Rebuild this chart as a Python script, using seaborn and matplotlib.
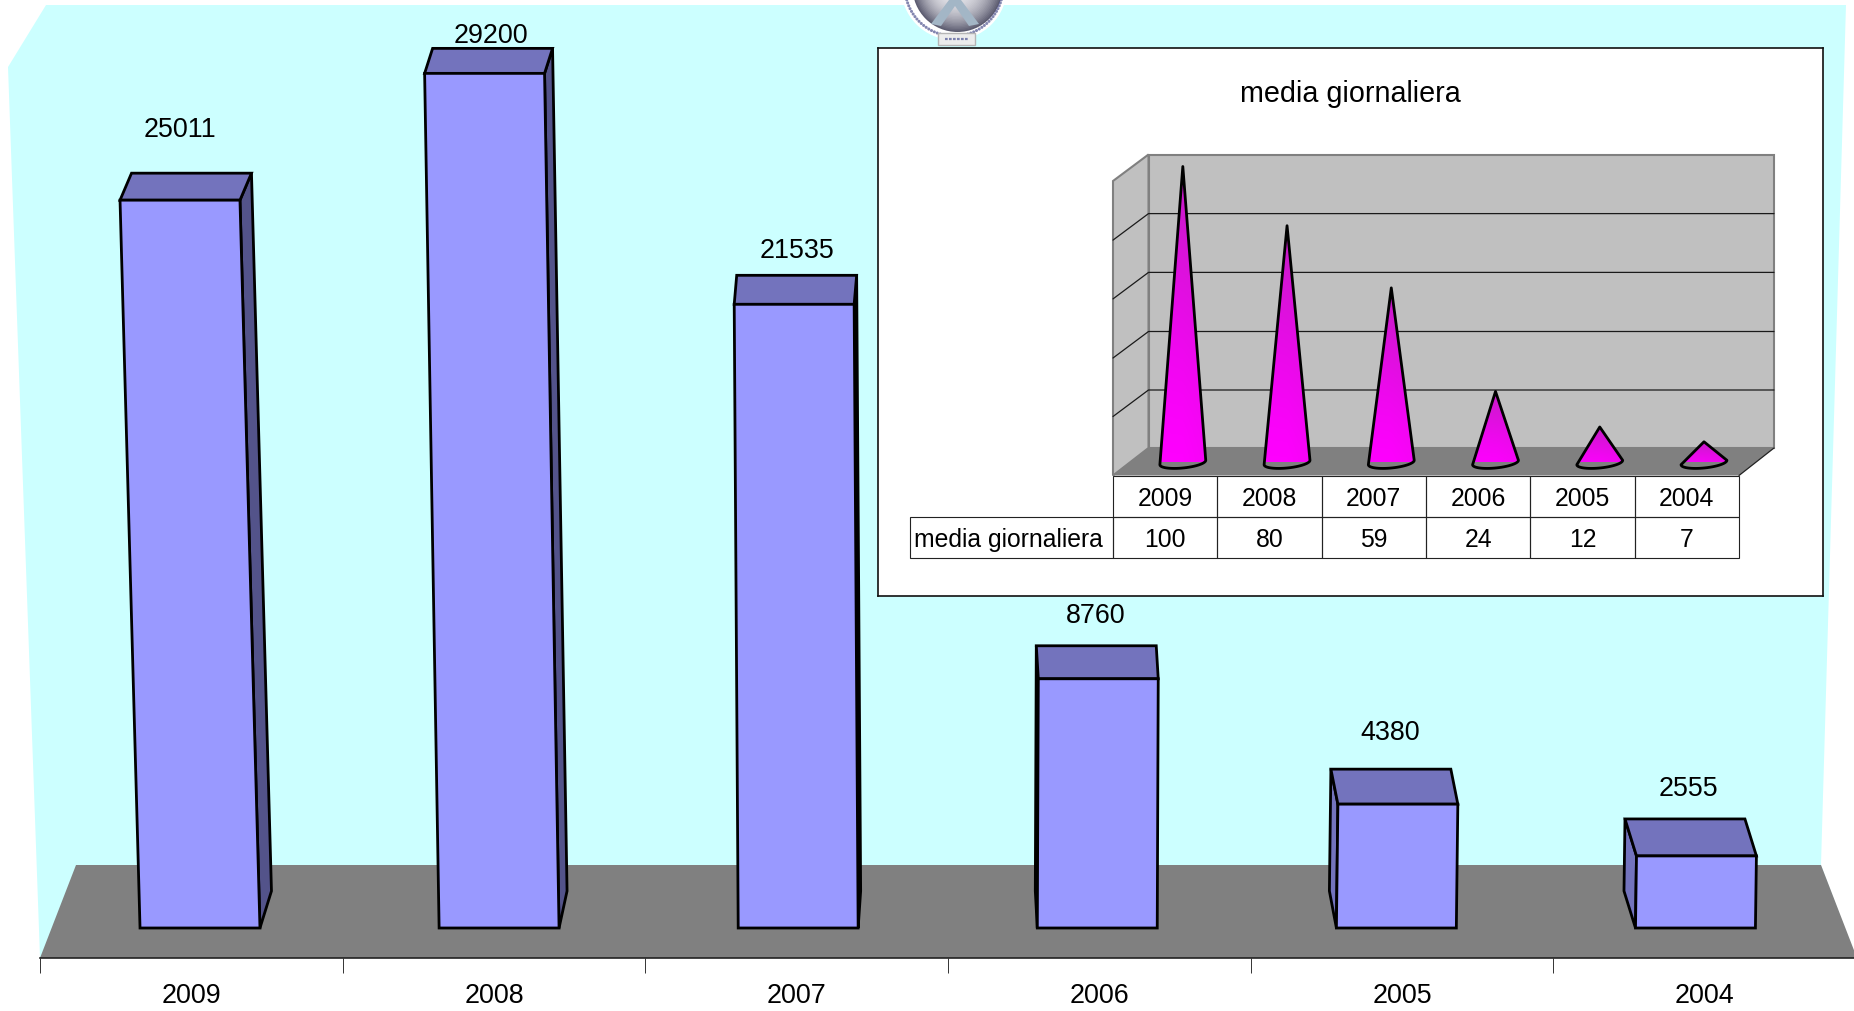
import numpy as np
import matplotlib
matplotlib.use('Agg')
import matplotlib.pyplot as plt
import seaborn as sns
from matplotlib.patches import Polygon, Circle, Rectangle
from matplotlib.transforms import Affine2D, IdentityTransform

sns.set_theme(style='white')
plt.rcParams['font.family'] = ['Liberation Sans', 'DejaVu Sans']

# =============================================================
# DATA
# =============================================================

years = ['2009', '2008', '2007', '2006', '2005', '2004']
totals = [25011, 29200, 21535, 8760, 4380, 2555]
daily = [100, 80, 59, 24, 12, 7]
inset_title = 'media giornaliera'

# =============================================================
# LAYOUT (pixels, measured from the top left of the picture)
# =============================================================

W, H = 1854, 1011
pix = Affine2D().scale(1, -1).translate(0, H)

BLACK = '#000000'
EDGE = 2.0
FRONT, TOP, RIGHT = '#9999FF', '#7373BD', '#53538A'

# 3d look of each bar: how far it leans, and where the back of it sits
lean = [20, 14.5, 4, -1, -1.5, -1]
depth_dx = [11.5, 8, 2.5, -2, -7, -11.5]
depth_dy = [27, 25, 29, 33, 35, 37]
depth_floor = 37
label_dx = [0, 6, 3, -3, -8, -8]
label_dy = [70, 37.5, 53.5, 63, 71, 66.5]


def px_axes(x0, y0, x1, y1, **kw):
    return fig.add_axes([x0 / W, 1 - y1 / H, (x1 - x0) / W, (y1 - y0) / H], **kw)


def shape(target, pts, zorder=1, **kw):
    kw.setdefault('transform', pix)
    patch = Polygon(pts, closed=True, clip_on=False, zorder=zorder, **kw)
    target.add_patch(patch)
    return patch


fig = plt.figure(figsize=(W / 100, H / 100), dpi=100, facecolor='white')

# =============================================================
# 1. WALL, FLOOR, LOGO
# =============================================================

bg = px_axes(0, 0, W, H)
bg.axis('off')
shape(bg, [(46, 5), (8, 67), (40, 958), (1856, 958), (1821, 865), (1846, 5)],
      facecolor='#CCFFFF', edgecolor='none')
shape(bg, [(76, 865), (1821, 865), (1857, 958), (40, 958)],
      facecolor='#808080', edgecolor='none', zorder=2)

# the emblem that is cut off by the top of the slide
bg.add_patch(Circle((954, -13), 53, transform=pix, facecolor='white', edgecolor='none',
                    clip_on=False, zorder=3))
for r in np.linspace(45, 3, 30):
    t = r / 45
    col = np.array([0.90, 0.90, 0.92]) * (1 - t ** 2.5) + np.array([0.36, 0.36, 0.44]) * t ** 2.5
    bg.add_patch(Circle((953.5 + 4 * t, -13), r, transform=pix, facecolor=col,
                        edgecolor='none', clip_on=False, zorder=3))
shape(bg, [(955, -8), (931, 24), (941, 26), (955, 6), (969, 26), (979, 24)],
      facecolor='#A3B6C6', edgecolor='none', zorder=3)
for a in np.radians(np.linspace(8, 172, 46)):
    bg.add_patch(Circle((954 + 49 * np.cos(a), -13 + 49 * np.sin(a)), 1.5, transform=pix,
                        facecolor='#4F548F', alpha=0.7, edgecolor='none', clip_on=False, zorder=3))
bg.add_patch(Rectangle((938, 33), 37, 12, transform=pix, facecolor='#ECECEC', edgecolor='#B5B5B5',
                       linewidth=1, clip_on=False, zorder=3))
bg.plot([945, 968], [39, 39], transform=pix, color='#7B80AE', linewidth=1.6,
        linestyle=(0, (1.2, 0.6)), zorder=4)
bg.set_xlim(0, W)
bg.set_ylim(0, H)

# =============================================================
# 2. FLOOR AXIS WITH THE YEARS
# =============================================================

xax = px_axes(40, 940, 40 + 6 * 302.7, 958)
xax.patch.set_visible(False)
sns.despine(ax=xax, left=True, top=True, right=True)
xax.set_xlim(-0.5, 5.5)
xax.set_yticks([])
xax.set_xticks(np.arange(7) - 0.5)
xax.set_xticklabels([])
xax.set_xticks(np.arange(6), labels=years, minor=True)
xax.tick_params(axis='x', which='major', bottom=True, length=10.8, width=0.7, color='#333333')
xax.tick_params(axis='x', which='minor', bottom=False, pad=14, labelsize=19.4, labelcolor=BLACK)
xax.spines['bottom'].set_color('#222222')
xax.spines['bottom'].set_linewidth(1.2)

# =============================================================
# 3. MAIN BARS
# =============================================================

SLOPE, CURVE = 0.0281, 4e-8


def forward(v):
    v = np.asarray(v, dtype=float)
    return SLOPE * v + CURVE * v * v


def inverse(h):
    h = np.asarray(h, dtype=float)
    return (-SLOPE + np.sqrt(SLOPE ** 2 + 4 * CURVE * np.abs(h))) / (2 * CURVE)


ax = px_axes(50.45, 0, 1845, 928)
sns.barplot(x=years, y=totals, order=years, color=FRONT, saturation=1, width=0.401,
            errorbar=None, edgecolor=BLACK, linewidth=EDGE, ax=ax)
ax.set_yscale('function', functions=(forward, inverse))
ax.set_xlim(-0.5, 5.5)
ax.set_ylim(0, float(inverse(928)))
ax.axis('off')

spacing = (1845 - 50.45) / 6
for i, bar in enumerate(ax.patches):
    x0, x1, v = bar.get_x(), bar.get_x() + bar.get_width(), bar.get_height()
    k = lean[i] / spacing / v
    tr = Affine2D.from_values(1, 0, -k, 1, 0, 0) + ax.transData
    bar.set_transform(tr)
    bar.set_clip_on(False)
    bar.set_zorder(3)

    bl, br, tr_, tl = tr.transform([(x0, 0), (x1, 0), (x1, v), (x0, v)])
    dx, dy = depth_dx[i], depth_dy[i]
    back = np.array([dx, dy])
    floor = np.array([dx, depth_floor])
    if dx > 0:
        side = [tr_, tr_ + back, br + floor, br]
        col = RIGHT
    else:
        side = [tl, tl + back, bl + floor, bl]
        col = TOP
    shape(ax, side, zorder=2, transform=IdentityTransform(), facecolor=col,
          edgecolor=BLACK, linewidth=EDGE)
    shape(ax, [tl, tr_, tr_ + back, tl + back], zorder=2, transform=IdentityTransform(),
          facecolor=TOP, edgecolor=BLACK, linewidth=EDGE)

    ax.annotate(str(totals[i]), xy=(i - lean[i] / spacing, v),
                xytext=(label_dx[i], label_dy[i]), textcoords='offset pixels',
                ha='center', va='center', fontsize=19.4, color=BLACK, annotation_clip=False)

# =============================================================
# 4. INSET WITH THE DAILY AVERAGE
# =============================================================

box = px_axes(878, 48, 1823, 596, facecolor='white')
box.set_xticks([])
box.set_yticks([])
for sp in box.spines.values():
    sp.set_color('#111111')
    sp.set_linewidth(1.2)

shape(box, [(1148.5, 154.5), (1774, 154.5), (1774, 448), (1148.5, 448)], facecolor='#C0C0C0',
      edgecolor='#808080', linewidth=1.5)
shape(box, [(1113, 181), (1148.5, 154.5), (1148.5, 448), (1113, 475.5)], facecolor='#C0C0C0',
      edgecolor='#808080', linewidth=1.5)
shape(box, [(1113, 475.5), (1148.5, 448), (1774, 448), (1739, 475.5)], facecolor='#808080',
      edgecolor='none')
box.plot([1739, 1774], [475.5, 448], transform=pix, color='#222222', linewidth=0.9, clip_on=False)
for gy in [213.6, 272.4, 331.5, 390]:
    box.plot([1113, 1148.5, 1774], [gy + 26.5, gy, gy], transform=pix, color='#1A1A1A',
             linewidth=0.9, clip_on=False)
box.text(1350, 94, inset_title, transform=pix, ha='center', va='center', fontsize=20.7, color=BLACK)

UNIT = 2.96
cones = px_axes(1130.7, 462.5 - 120 * UNIT, 1756.1, 462.5)
cones.set_zorder(box.get_zorder() + 1)
sns.barplot(x=years, y=daily, order=years, color='#FF00FF', saturation=1, width=0.44,
            errorbar=None, ax=cones)
cones.set_xlim(-0.5, 5.5)
cones.set_ylim(0, 120)
cones.axis('off')

drop = 5.5 / UNIT
tilt = 2.2 / UNIT
low, high = np.array([1.0, 0.0, 1.0]), np.array([0.76, 0.12, 0.76])
for bar in cones.patches:
    bar.set_alpha(0)
    hw = bar.get_width() / 2
    xc = bar.get_x() + hw
    h = bar.get_height()
    th = np.linspace(0, np.pi, 30)
    path = [(xc, h)] + [(xc + hw * np.cos(t), -drop * np.sin(t) + tilt * np.cos(t)) for t in th]
    outline = Polygon(path, closed=True, facecolor='none', edgecolor=BLACK, linewidth=2.0,
                      joinstyle='round', clip_on=False, zorder=4)
    cones.add_patch(outline)

    # magenta at the base, going darker towards the tip and on the right
    v_t = np.linspace(1, 0, 120)[:, None]
    u_t = np.linspace(-1, 1, 60)[None, :]
    mix = np.clip(0.9 * v_t ** 1.4 + 0.14 * np.maximum(u_t, 0) + 0.08 * (1 - np.abs(u_t)) * v_t, 0, 1)
    img = low[None, None, :] * (1 - mix[:, :, None]) + high[None, None, :] * mix[:, :, None]
    im = cones.imshow(img, extent=(xc - hw, xc + hw, -drop - tilt, h), aspect='auto', zorder=3)
    im.set_clip_path(outline)
cones.set_xlim(-0.5, 5.5)
cones.set_ylim(0, 120)

# table under the inset chart
tab = px_axes(910, 475.5, 1739, 558)
tab.set_zorder(box.get_zorder() + 1)
tab.axis('off')
label_w = (1113 - 910) / 829
col_w = (1 - label_w) / 6
table = tab.table(cellText=[[''] + years, [inset_title] + [str(d) for d in daily]],
                  colWidths=[label_w] + [col_w] * 6, bbox=[0, 0, 1, 1], cellLoc='center')
table.auto_set_font_size(False)
for (r, c), cell in table.get_celld().items():
    cell.set_edgecolor('#222222')
    cell.set_linewidth(0.8)
    cell.set_facecolor('none')
    cell.get_text().set_fontsize(17.8)
    cell.get_text().set_color(BLACK)
    cell.get_text().set_va('center_baseline')
    if c == 0:
        cell.PAD = 0.018
        cell.set_text_props(ha='left')
table[(0, 0)].visible_edges = ''

plt.savefig('out.png', dpi=100)
